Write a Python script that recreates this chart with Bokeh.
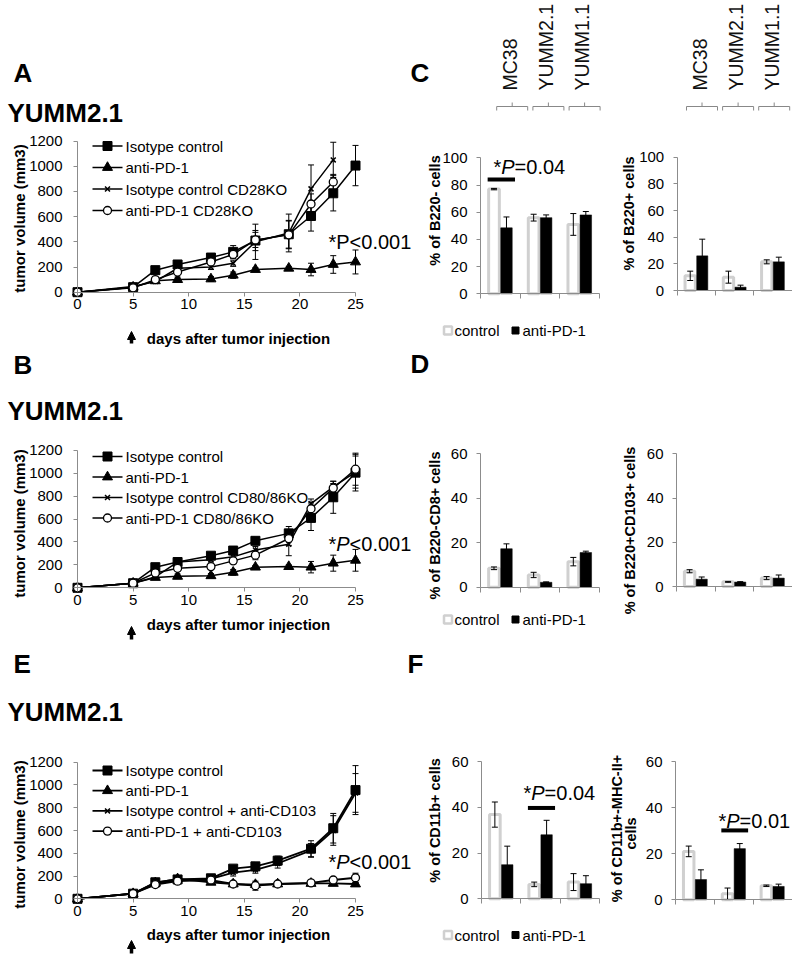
import math
from bokeh.plotting import figure
from bokeh.models import Range1d, LinearAxis, FixedTicker, Arrow, NormalHead
from bokeh.core.properties import value
from bokeh.embed import file_html
from bokeh.resources import INLINE

FONT = "Liberation Sans"
AXC = "#8c8c8c"
CTRL_LINE = "#d0d0d0"

# ---------------- data ----------------
days_ab = [0, 5, 7, 9, 12, 14, 16, 19, 21, 23, 25]
days_e = [0, 5, 7, 9, 12, 14, 16, 18, 21, 23, 25]

# Panel A
a_labels = ["Isotype control", "anti-PD-1", "Isotype control CD28KO", "anti-PD-1 CD28KO"]
a_iso = [0, 40, 175, 220, 275, 320, 410, 460, 605, 785, 1005]
a_iso_err = [0, 10, 15, 20, 20, 50, 80, 110, 120, 140, 160]
a_pd1 = [0, 40, 90, 100, 105, 135, 180, 190, 180, 220, 240]
a_pd1_err = [0, 10, 15, 20, 20, 25, 15, 15, 50, 70, 95]
a_iso_ko = [0, 45, 85, 190, 200, 230, 400, 470, 820, 1050]
a_iso_ko_err = [0, 10, 15, 20, 20, 25, 140, 150, 190, 140]
a_pd1_ko = [0, 35, 100, 160, 240, 300, 415, 455, 700, 875]
a_pd1_ko_err = [0, 10, 15, 20, 20, 30, 60, 110, 80, 60]

# Panel B
b_labels = ["Isotype control", "anti-PD-1", "Isotype control CD80/86KO", "anti-PD-1 CD80/86KO"]
b_iso = [0, 40, 180, 225, 280, 325, 410, 475, 610, 790, 1005]
b_iso_err = [0, 10, 20, 20, 20, 20, 30, 60, 110, 140, 160]
b_pd1 = [0, 40, 90, 100, 105, 135, 180, 185, 180, 215, 240]
b_pd1_err = [0, 10, 15, 20, 20, 25, 15, 15, 50, 70, 95]
b_iso_ko = [0, 40, 95, 225, 245, 270, 330, 380, 735, 880, 1010]
b_iso_ko_err = [0, 10, 15, 20, 20, 25, 30, 100, 40, 50, 140]
b_pd1_ko = [0, 40, 130, 170, 185, 235, 285, 430, 690, 870, 1035]
b_pd1_ko_err = [0, 10, 15, 20, 20, 20, 40, 60, 50, 40, 140]

# Panel E
e_labels = ["Isotype control", "anti-PD-1", "Isotype control + anti-CD103", "anti-PD-1 + anti-CD103"]
e_iso = [0, 45, 145, 170, 180, 265, 285, 335, 440, 620, 955]
e_iso_err = [0, 10, 20, 20, 20, 25, 25, 40, 70, 130, 215]
e_pd1 = [0, 45, 140, 175, 145, 130, 125, 130, 135, 135, 130]
e_pd1_err = [0, 10, 20, 20, 15, 15, 20, 15, 15, 15, 15]
e_iso_cd103 = [0, 45, 130, 165, 175, 230, 255, 310, 425, 600, 930]
e_iso_cd103_err = [0, 10, 20, 20, 20, 30, 30, 40, 60, 130, 170]
e_pd1_cd103 = [0, 45, 125, 155, 165, 130, 115, 130, 140, 165, 185]
e_pd1_cd103_err = [0, 10, 20, 20, 20, 15, 40, 15, 15, 20, 40]

# Bar panels
cell_lines = ["MC38", "YUMM2.1", "YUMM1.1"]
group_labels = ["control", "anti-PD-1"]

c1_ylabel = "% of B220- cells"
c1_ctrl = [77, 56, 51]
c1_ctrl_err = [0.5, 2.5, 8]
c1_pd1 = [48.5, 56, 58]
c1_pd1_err = [8, 2, 2.5]

c2_ylabel = "% of B220+ cells"
c2_ctrl = [11, 10, 21.5]
c2_ctrl_err = [3.5, 4.5, 1.5]
c2_pd1 = [26, 2.5, 21.5]
c2_pd1_err = [12.5, 1.5, 3.5]

d1_ylabel = "% of B220-CD8+ cells"
d1_ctrl = [8.5, 5.5, 11.5]
d1_ctrl_err = [0.6, 1.2, 1.9]
d1_pd1 = [17.3, 2.2, 15.6]
d1_pd1_err = [2.2, 0.2, 0.6]

d2_ylabel = "% of B220+CD103+ cells"
d2_ctrl = [6.9, 2.1, 3.8]
d2_ctrl_err = [0.7, 0.2, 0.7]
d2_pd1 = [3.3, 2.0, 3.8]
d2_pd1_err = [1.0, 0.2, 1.4]

f1_ylabel = "% of CD11b+ cells"
f1_ctrl = [36.8, 6.3, 7.3]
f1_ctrl_err = [5.5, 1.0, 3.7]
f1_pd1 = [14.9, 28.0, 6.6]
f1_pd1_err = [8.1, 6.3, 3.5]

f2_ylabel = ["% of CD11b+-MHC-II+", "cells"]
f2_ctrl = [21.0, 2.6, 6.1]
f2_ctrl_err = [2.3, 2.5, 0.3]
f2_pd1 = [8.8, 22.2, 5.8]
f2_pd1_err = [4.2, 2.2, 1.0]

# significance marks: (category index, height)
c1_sig = (0, 84)
f1_sig = (1, 39.7)
f2_sig = (1, 30.1)

# ---------------- layout helpers ----------------
L, R, T, B = 0, 792, 0, 956   # canvas edges in page pixels


def lin(v0, p0, v1, p1):
    return lambda px: v0 + (px - p0) * (v1 - v0) / (p1 - p0)


spaces = {
    "A": ((0, 77, 25, 355), (0, 291.7, 1200, 140.5)),
    "B": ((0, 77, 25, 355), (0, 587.3, 1200, 449.8)),
    "E": ((0, 77, 25, 355), (0, 898.3, 1200, 761.7)),
    "C1": ((0, 480, 3, 599), (0, 293.3, 100, 157.3)),
    "C2": ((0, 676.7, 3, 791.5), (0, 290, 100, 156.7)),
    "D1": ((0, 480, 3, 599), (0, 586.7, 60, 453.3)),
    "D2": ((0, 676, 3, 791.5), (0, 586, 60, 453.3)),
    "F1": ((0, 481, 3, 599), (0, 898.3, 60, 761)),
    "F2": ((0, 675, 3, 791.5), (0, 899.3, 60, 761)),
}
xr, yr = {}, {}
for name, (xc, yc) in spaces.items():
    fx, fy = lin(*xc), lin(*yc)
    xr[name] = Range1d(fx(L), fx(R))
    yr[name] = Range1d(fy(B), fy(T))

p = figure(width=R - L, height=B - T, x_range=Range1d(L, R), y_range=Range1d(B, T),
           x_axis_type=None, y_axis_type=None, toolbar_location=None,
           output_backend="svg", min_border=0, outline_line_color=None,
           background_fill_color="white", border_fill_color="white")
p.extra_x_ranges = xr
p.extra_y_ranges = yr


def txt(x, y, s, size, style="normal", align="left", baseline="alphabetic", angle=0.0, color="black"):
    p.text(x=[x], y=[y], text=[s], text_font=value(FONT), text_font_size=f"{size}px",
           text_font_style=style, text_align=align, text_baseline=baseline,
           angle=angle, text_color=color)


def p_value(x, yb, rest, italic=True, size=20):
    if italic:
        txt(x, yb, "*", size)
        txt(x + 0.389 * size, yb, "P", size, style="italic")
        txt(x + (0.389 + 0.667) * size, yb, rest, size)
    else:
        txt(x, yb, "*P" + rest, size)


def style_axis(ax, standoff, tick_out=4, show_labels=True):
    ax.axis_line_color = AXC
    ax.axis_line_width = 1
    ax.major_tick_line_color = AXC
    ax.major_tick_out = tick_out
    ax.major_tick_in = 0
    ax.minor_tick_line_color = None
    ax.major_label_text_font = FONT
    ax.major_label_text_font_size = "15px"
    ax.major_label_text_color = "black" if show_labels else None
    ax.major_label_standoff = standoff


def add_axes(name, xmax, xticks, ymax, yticks, xlabels=True, ystand=11, xstand=3, xtick_out=4):
    xa = LinearAxis(x_range_name=name, y_range_name=name, fixed_location=0,
                    bounds=(0, xmax), ticker=FixedTicker(ticks=xticks))
    style_axis(xa, xstand, tick_out=xtick_out, show_labels=xlabels)
    p.add_layout(xa, "below")
    ya = LinearAxis(x_range_name=name, y_range_name=name, fixed_location=0,
                    bounds=(0, ymax), ticker=FixedTicker(ticks=yticks))
    style_axis(ya, ystand)
    p.add_layout(ya, "left")


MSTYLE = {
    "square": dict(size=9, fill_color="black", line_color="black"),
    "triangle": dict(size=10, fill_color="black", line_color="black"),
    "x": dict(size=7, line_color="black", line_width=1.5),
    "circle": dict(size=8, fill_color="white", line_color="black", line_width=1.3),
}


def errbars(name, xs, ys, es, cap=6):
    xs2 = [x for x, e in zip(xs, es) if e > 0]
    lo = [y - e for y, e in zip(ys, es) if e > 0]
    hi = [y + e for y, e in zip(ys, es) if e > 0]
    kw = dict(x_range_name=name, y_range_name=name)
    p.segment(xs2, lo, xs2, hi, line_color="black", line_width=1, **kw)
    p.scatter(xs2 + xs2, lo + hi, marker="dash", size=cap, line_color="black", line_width=1, **kw)


def line_panel(name, days, series, leg_y0, leg_dy, lw=1.5):
    kw = dict(x_range_name=name, y_range_name=name)
    for label, marker, ys, es in series:
        p.line(days[:len(ys)], ys, line_color="black", line_width=lw, **kw)
    for label, marker, ys, es in series:
        errbars(name, days[:len(ys)], ys, es)
    for label, marker, ys, es in series:
        p.scatter(days[:len(ys)], ys, marker=marker, **MSTYLE[marker], **kw)
    add_axes(name, 25, [0, 5, 10, 15, 20, 25], 1200, list(range(0, 1201, 200)))
    for i, (label, marker, ys, es) in enumerate(series):
        y = leg_y0 + leg_dy * i
        p.line([92, 122], [y, y], line_color="black", line_width=lw)
        p.scatter([107], [y], marker=marker, **MSTYLE[marker])
        txt(125, y, label, 15, baseline="middle")


def bar_panel(name, ctrl, ctrl_err, pd1, pd1_err, ymax):
    kw = dict(x_range_name=name, y_range_name=name)
    idx = list(range(len(cell_lines)))
    xc = [i + 0.34 for i in idx]
    xp = [i + 0.655 for i in idx]
    p.vbar(x=xc, top=ctrl, bottom=0, width=0.27, fill_color="white",
           line_color=CTRL_LINE, line_width=3, **kw)
    p.vbar(x=xp, top=pd1, bottom=0, width=0.29, fill_color="black",
           line_color="black", line_width=0.5, **kw)
    errbars(name, xc, ctrl, ctrl_err, cap=6)
    errbars(name, xp, pd1, pd1_err, cap=6)
    add_axes(name, 3, [0, 1, 2, 3], ymax, list(range(0, ymax + 1, 20)),
             xlabels=False, ystand=9, xtick_out=5)


def sig_bar(name, sig):
    i, h = sig
    p.line([i + 0.18, i + 0.87], [h, h], line_color="black", line_width=4,
           x_range_name=name, y_range_name=name)


def bar_legend(yc):
    p.scatter([447.5], [yc], marker="square", size=8, fill_color="white",
              line_color=CTRL_LINE, line_width=2.5)
    txt(454, yc, group_labels[0], 15, baseline="middle")
    p.scatter([515], [yc], marker="square", size=7, fill_color="black", line_color="black")
    txt(522, yc, group_labels[1], 15, baseline="middle")


def up_arrow(x, ytop, ybot):
    p.add_layout(Arrow(end=NormalHead(size=8, fill_color="black", line_color="black"),
                       x_start=x, y_start=ybot, x_end=x, y_end=ytop,
                       line_color="black", line_width=3.5))


# ---------------- left column: tumor growth ----------------
line_panel("A", days_ab, [
    (a_labels[0], "square", a_iso, a_iso_err),
    (a_labels[1], "triangle", a_pd1, a_pd1_err),
    (a_labels[2], "x", a_iso_ko, a_iso_ko_err),
    (a_labels[3], "circle", a_pd1_ko, a_pd1_ko_err),
], 145.5, 21.5)
line_panel("B", days_ab, [
    (b_labels[0], "square", b_iso, b_iso_err),
    (b_labels[1], "triangle", b_pd1, b_pd1_err),
    (b_labels[2], "x", b_iso_ko, b_iso_ko_err),
    (b_labels[3], "circle", b_pd1_ko, b_pd1_ko_err),
], 456, 20.5)
line_panel("E", days_e, [
    (e_labels[0], "square", e_iso, e_iso_err),
    (e_labels[1], "triangle", e_pd1, e_pd1_err),
    (e_labels[2], "x", e_iso_cd103, e_iso_cd103_err),
    (e_labels[3], "circle", e_pd1_cd103, e_pd1_cd103_err),
], 770, 20.2, lw=1.8)

for letter, ylet, ytitle, ylab_c, yx, arrow in [
    ("A", 72, 112, 218, 337.5, (331, 343)),
    ("B", 364, 410, 523, 624, (626, 639)),
    ("E", 663, 711.5, 834, 934, (940, 953)),
]:
    txt(13, ylet, letter, 26, style="bold")
    txt(7, ytitle, "YUMM2.1", 26, style="bold")
    txt(19, ylab_c, "tumor volume (mm3)", 15, style="bold", align="center",
        baseline="middle", angle=math.pi / 2)
    txt(238, yx, "days after tumor injection", 15, style="bold", align="center",
        baseline="middle")
    up_arrow(131, arrow[0], arrow[1])

p_value(328, 241.7, "<0.001", italic=False)
p_value(328, 543, "<0.001")
p_value(328, 861.5, "<0.001")

# ---------------- right column: flow cytometry ----------------
bar_panel("C1", c1_ctrl, c1_ctrl_err, c1_pd1, c1_pd1_err, 100)
bar_panel("C2", c2_ctrl, c2_ctrl_err, c2_pd1, c2_pd1_err, 100)
bar_panel("D1", d1_ctrl, d1_ctrl_err, d1_pd1, d1_pd1_err, 60)
bar_panel("D2", d2_ctrl, d2_ctrl_err, d2_pd1, d2_pd1_err, 60)
bar_panel("F1", f1_ctrl, f1_ctrl_err, f1_pd1, f1_pd1_err, 60)
bar_panel("F2", f2_ctrl, f2_ctrl_err, f2_pd1, f2_pd1_err, 60)

sig_bar("C1", c1_sig)
sig_bar("F1", f1_sig)
sig_bar("F2", f2_sig)
p_value(493, 166.7, "=0.04")
p_value(523, 792.7, "=0.04")
p_value(718, 820, "=0.01")

txt(410, 72, "C", 26, style="bold")
txt(410, 363, "D", 26, style="bold")
txt(407, 663, "F", 26, style="bold")

# y-axis titles
for xc_, yc_, s in [(434, 210, c1_ylabel), (628, 213, c2_ylabel),
                    (434, 525, d1_ylabel), (629, 530, d2_ylabel),
                    (434, 820, f1_ylabel)]:
    txt(xc_, yc_, s, 14.5, style="bold", align="center", baseline="middle", angle=math.pi / 2)
txt(616, 828, f2_ylabel[0], 14.5, style="bold", align="center", baseline="middle", angle=math.pi / 2)
txt(630, 833, f2_ylabel[1], 14.5, style="bold", align="center", baseline="middle", angle=math.pi / 2)

# category labels with brackets on top of panel C
for c0, step in [(511.7, 36.2), (701.5, 36.1)]:
    for i, name in enumerate(cell_lines):
        cx = c0 + step * i
        txt(cx - 2.5, 90, name, 19.5, align="left", baseline="middle", angle=math.pi / 2,
            color="#111111")
        p.multi_line([[cx - 15.5, cx - 15.5, cx + 15.5, cx + 15.5], [cx, cx]],
                     [[110, 106, 106, 110], [106, 102]], line_color="#888888", line_width=1)

bar_legend(330)
bar_legend(619)
bar_legend(934.5)

open("out.html", "w").write(file_html(p, INLINE))
